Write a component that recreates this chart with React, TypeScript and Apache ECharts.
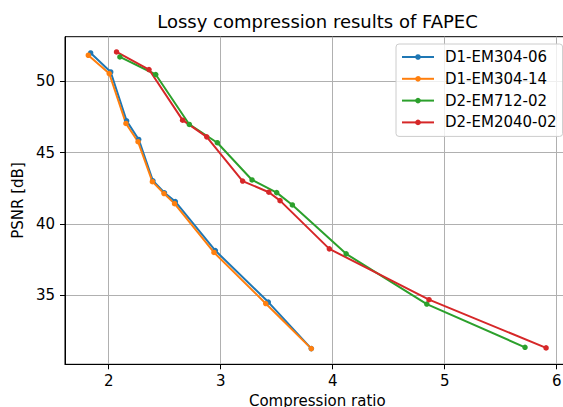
import React, { useEffect, useRef } from "react";
import * as echarts from "echarts";

const seriesNames = ["D1-EM304-06", "D1-EM304-14", "D2-EM712-02", "D2-EM2040-02"];
const seriesColors = ["#1f77b4", "#ff7f0e", "#2ca02c", "#d62728"];

// Compression ratio / PSNR pairs for each dataset
const d1em30406X = [1.839, 2.018, 2.16, 2.268, 2.395, 2.498, 2.595, 2.952, 3.425, 3.809];
const d1em30406Y = [51.98, 50.65, 47.22, 45.92, 43.02, 42.18, 41.56, 38.13, 34.52, 31.26];
const d1em30414X = [1.818, 2.005, 2.154, 2.262, 2.39, 2.494, 2.588, 2.94, 3.402, 3.809];
const d1em30414Y = [51.82, 50.54, 47.04, 45.76, 42.96, 42.13, 41.42, 38.0, 34.42, 31.26];
const d2em71202X = [2.1, 2.42, 2.72, 2.97, 3.28, 3.5, 3.64, 4.12, 4.84, 5.717];
const d2em71202Y = [51.7, 50.47, 46.97, 45.69, 43.08, 42.19, 41.33, 37.9, 34.38, 31.35];
const d2em204002X = [2.07, 2.36, 2.66, 2.875, 3.196, 3.43, 3.53, 3.97, 4.86, 5.905];
const d2em204002Y = [52.05, 50.82, 47.27, 46.1, 43.0, 42.22, 41.63, 38.25, 34.69, 31.31];

const xTicks = [2, 3, 4, 5, 6];
const yTicks = [35, 40, 45, 50];

const FONT = "DejaVu Sans";

function pairs(xs: number[], ys: number[]) {
  return xs.map((x, i) => [x, ys[i]]);
}

export default function App() {
  const ref = useRef<HTMLDivElement>(null);

  useEffect(() => {
    if (!ref.current) return;
    const chart = echarts.init(ref.current, null, { renderer: "svg" });
    const allData = [
      pairs(d1em30406X, d1em30406Y),
      pairs(d1em30414X, d1em30414Y),
      pairs(d2em71202X, d2em71202Y),
      pairs(d2em204002X, d2em204002Y),
    ];

    const axisCommon = {
      axisLine: { show: true, lineStyle: { color: "#000", width: 1 } },
      axisTick: { show: true, length: 5, lineStyle: { color: "#000", width: 1 } },
      splitLine: { show: true, lineStyle: { color: "#b0b0b0", width: 1 } },
      nameTextStyle: { fontFamily: FONT, fontSize: 15, color: "#000" },
    };

    chart.setOption({
      animation: false,
      backgroundColor: "#fff",
      textStyle: { fontFamily: FONT },
      graphic: [
        {
          type: "text",
          x: 317.5,
          y: 21.3,
          style: {
            text: "Lossy compression results of FAPEC",
            fontFamily: FONT,
            fontSize: 18,
            fill: "#000",
            textAlign: "center",
            textVerticalAlign: "middle",
          },
        },
      ],
      grid: {
        left: 65,
        top: 36.7,
        width: 504.6,
        height: 327.6,
        containLabel: false,
        outerBoundsMode: "none",
        show: true,
        borderColor: "#000",
        borderWidth: 1,
        backgroundColor: "transparent",
      },
      legend: {
        orient: "vertical",
        left: 396,
        top: 44,
        itemWidth: 32,
        itemHeight: 7,
        itemGap: 6.8,
        padding: [5.5, 6, 6.5, 5],
        backgroundColor: "rgba(255,255,255,0.8)",
        borderColor: "#cccccc",
        borderWidth: 1,
        borderRadius: 3,
        textStyle: {
          fontFamily: FONT,
          fontSize: 15,
          color: "#000",
          lineHeight: 15,
          padding: [0, 0, 0, 6],
        },
        data: seriesNames,
      },
      xAxis: {
        type: "value",
        min: 1.61,
        max: 6.115,
        name: "Compression ratio",
        nameLocation: "middle",
        nameGap: 28,
        ...axisCommon,
        axisTick: { ...axisCommon.axisTick, customValues: xTicks },
        axisLabel: {
          customValues: xTicks,
          margin: 9,
          fontFamily: FONT,
          fontSize: 15,
          color: "#000",
        },
      },
      yAxis: {
        type: "value",
        min: 30.16,
        max: 53.12,
        name: "PSNR [dB]",
        nameLocation: "middle",
        nameGap: 36.5,
        ...axisCommon,
        axisTick: { ...axisCommon.axisTick, customValues: yTicks },
        axisLabel: {
          customValues: yTicks,
          margin: 10,
          fontFamily: FONT,
          fontSize: 15,
          color: "#000",
        },
      },
      series: seriesNames.map((name, i) => ({
        name,
        type: "line",
        data: allData[i],
        symbol: "circle",
        symbolSize: 5.5,
        showSymbol: true,
        color: seriesColors[i],
        lineStyle: { width: 2, color: seriesColors[i] },
        itemStyle: { color: seriesColors[i] },
        emphasis: { disabled: true },
      })),
    });

    return () => chart.dispose();
  }, []);

  return <div ref={ref} style={{ width: 563, height: 407, position: "fixed", left: 0, top: 0 }} />;
}
